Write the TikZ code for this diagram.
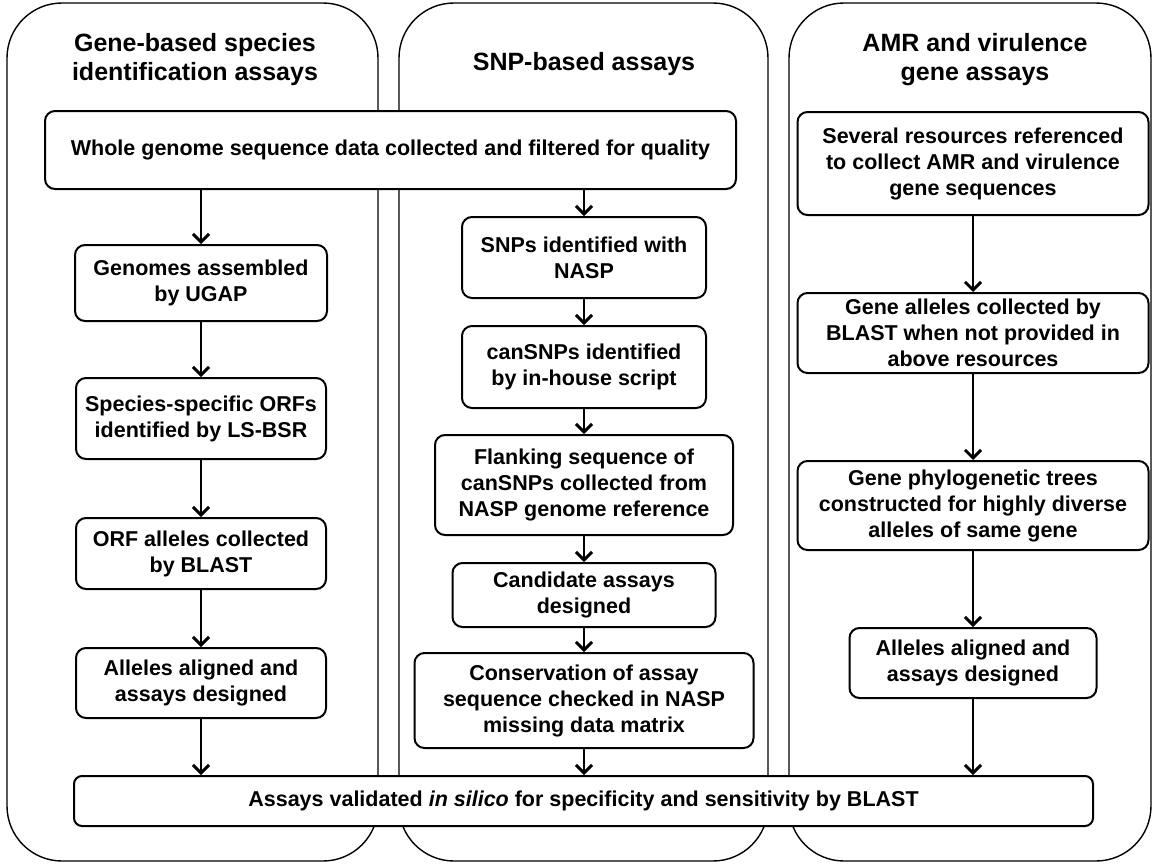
\documentclass[tikz,border=0pt]{standalone}
\usepackage{fontspec}
\setmainfont{Liberation Sans}
\usetikzlibrary{arrows.meta}
\newcommand\bxfont{\fontsize{21.5}{26}\selectfont\bfseries}
\newcommand\ttlfont{\fontsize{25}{29}\selectfont\bfseries}
\begin{document}
\begin{tikzpicture}[x=1pt,y=-1pt,
  colbox/.style={draw, line width=1.4pt, rounded corners=55pt},
  stepbox/.style={draw, line width=2pt, rounded corners=10pt, fill=white, align=center, font=\bxfont, inner sep=0pt},
  ttl/.style={align=center, font=\ttlfont, inner sep=0pt},
  arr/.style={line width=2pt, -{Straight Barb[length=8pt,width=16pt,line width=3pt]}}]
\useasboundingbox (0,0) rectangle (1152,863);
\fill[white] (0,0) rectangle (1152,863);
% columns
\draw[colbox] (7,3) rectangle (378,861);
\draw[colbox] (399,3) rectangle (768,861);
\draw[colbox] (789,3) rectangle (1151,861);
% titles
\node[ttl] (t1) at (195,60) {Gene-based species\\identification assays};
\node[ttl, anchor=base] (t2) at (584,70) {SNP-based assays};
\node[ttl] (t3) at (975,60) {AMR and virulence\\gene assays};
% top and bottom boxes
\node[stepbox, minimum width=691pt, minimum height=78pt] (wg) at (390.5,150) {Whole genome sequence data collected and filtered for quality};
\node[stepbox, rounded corners=8pt, minimum width=1019pt, minimum height=50pt] (bot) at (583.5,801) {Assays validated \textit{in silico} for specificity and sensitivity by BLAST};
% column 1
\node[stepbox, minimum width=252pt, minimum height=76pt] (g1) at (201,283) {Genomes assembled\\by UGAP};
\node[stepbox, minimum width=250pt, minimum height=81pt] (g2) at (201,418.5) {Species-specific ORFs\\identified by LS-BSR};
\node[stepbox, minimum width=250pt, minimum height=71pt] (g3) at (201,553.5) {ORF alleles collected\\by BLAST};
\node[stepbox, minimum width=250pt, minimum height=70pt] (g4) at (201,683) {Alleles aligned and\\assays designed};
% column 2
\node[stepbox, minimum width=244pt, minimum height=81pt] (s1) at (584,257.5) {SNPs identified with\\NASP};
\node[stepbox, minimum width=244pt, minimum height=82pt] (s2) at (584,367) {canSNPs identified\\by in-house script};
\node[stepbox, minimum width=298pt, minimum height=100pt] (s3) at (584,485) {Flanking sequence of\\canSNPs collected from\\NASP genome reference};
\node[stepbox, minimum width=263pt, minimum height=64pt] (s4) at (584,595) {Candidate assays\\designed};
\node[stepbox, minimum width=339pt, minimum height=95pt] (s5) at (584,700.5) {Conservation of assay\\sequence checked in NASP\\missing data matrix};
% column 3
\node[stepbox, minimum width=351pt, minimum height=103pt] (a1) at (973,163.5) {Several resources referenced\\to collect AMR and virulence\\gene sequences};
\node[stepbox, minimum width=351pt, minimum height=80pt] (a2) at (973,333) {Gene alleles collected by\\BLAST when not provided in\\above resources};
\node[stepbox, minimum width=351pt, minimum height=89pt] (a3) at (973,505.5) {Gene phylogenetic trees\\constructed for highly diverse\\alleles of same gene};
\node[stepbox, minimum width=247pt, minimum height=70pt] (a4) at (973,663) {Alleles aligned and\\assays designed};
% arrows column 1
\draw[arr] (wg.south -| g1.north) -- (g1.north);
\draw[arr] (g1) -- (g2);
\draw[arr] (g2) -- (g3);
\draw[arr] (g3) -- (g4);
\draw[arr] (g4.south) -- (g4.south |- bot.north);
% arrows column 2
\draw[arr] (wg.south -| s1.north) -- (s1.north);
\draw[arr] (s1) -- (s2);
\draw[arr] (s2) -- (s3);
\draw[arr] (s3) -- (s4);
\draw[arr] (s4) -- (s5);
\draw[arr] (s5.south) -- (s5.south |- bot.north);
% arrows column 3
\draw[arr] (a1) -- (a2);
\draw[arr] (a2) -- (a3);
\draw[arr] (a3) -- (a4);
\draw[arr] (a4.south) -- (a4.south |- bot.north);
\end{tikzpicture}
\end{document}
